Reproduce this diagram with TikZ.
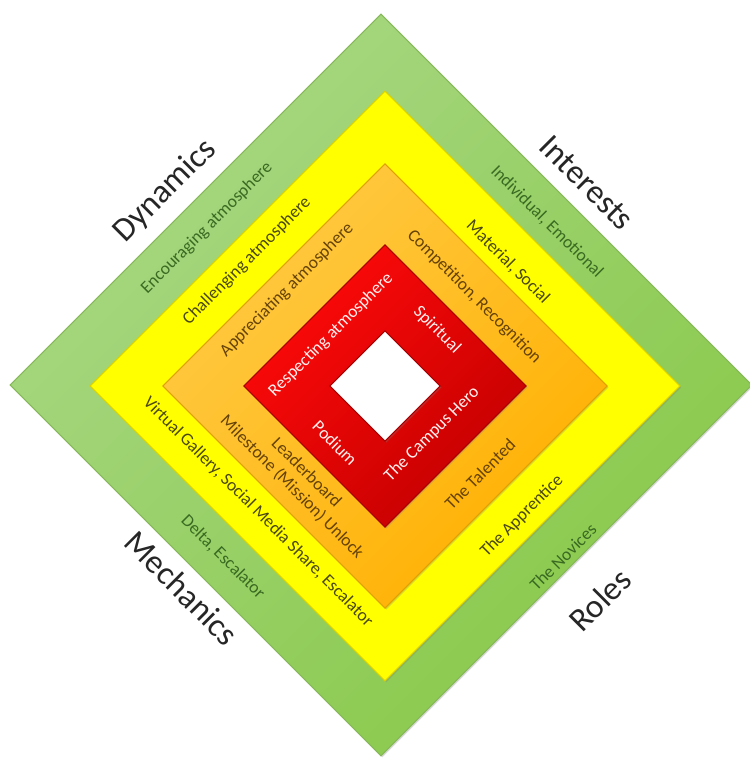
\documentclass[tikz,border=0pt]{standalone}
\usepackage{fontspec}
\setmainfont{Carlito}
\usepackage{tikz}
\usetikzlibrary{shadows}

\definecolor{greenlight}{HTML}{A8D784}
\definecolor{greendark}{HTML}{88C949}
\definecolor{greenedge}{HTML}{86B85A}
\definecolor{signyellow}{HTML}{FFFF00}
\definecolor{yellowedge}{HTML}{D9D200}
\definecolor{orangelight}{HTML}{FFCA45}
\definecolor{orangedark}{HTML}{FFB000}
\definecolor{orangeedge}{HTML}{E0A000}
\definecolor{redlight}{HTML}{FF0A0A}
\definecolor{reddark}{HTML}{C40000}
\definecolor{rededge}{HTML}{A80000}
\definecolor{greentext}{HTML}{3A6A22}
\definecolor{yellowtext}{HTML}{4A4712}
\definecolor{orangetext}{HTML}{654207}
\definecolor{redtext}{HTML}{FFF0F0}
\definecolor{labelgray}{HTML}{262626}

\begin{document}
\begin{tikzpicture}[
    layer/.style={rotate=45,inner sep=0pt,line width=0.6pt,
      drop shadow={opacity=0.3,shadow xshift=0.8pt,shadow yshift=-0.8pt}},
    lit/.style 2 args={top color=#1,bottom color=#2,shading angle=45},
    bandtext/.style={font=\fontsize{10}{12}\selectfont,inner sep=0pt},
    sidetext/.style={font=\fontsize{19}{22}\selectfont,text=labelgray,inner sep=0pt}]
    \useasboundingbox (0,0) rectangle (15,15.2);
    \node[layer,minimum size=10.49cm,lit={greenlight}{greendark},draw=greenedge] (green) at (7.62,7.50) {};
    \node[layer,minimum size=8.34cm,fill=signyellow,draw=yellowedge] (yellow) at (7.70,7.48) {};
    \node[layer,minimum size=6.28cm,lit={orangelight}{orangedark},draw=orangeedge] (orange) at (7.70,7.48) {};
    \node[layer,minimum size=3.99cm,lit={redlight}{reddark},draw=rededge] (red) at (7.70,7.48) {};
    \node[layer,minimum size=1.56cm,fill=white,draw=rededge] (core) at (7.70,7.48) {};

    \node[sidetext,rotate=45] (dyn) at (3.30,11.38) {Dynamics};
    \node[sidetext,rotate=-45] (int) at (11.74,11.54) {Interests};
    \node[sidetext,rotate=-45] (mech) at (3.64,3.44) {Mechanics};
    \node[sidetext,rotate=45] (roles) at (12.00,3.20) {Roles};

    \node[bandtext,text=greentext,rotate=45] (dyn1) at (4.14,10.64) {Encouraging atmosphere};
    \node[bandtext,text=yellowtext,rotate=45] (dyn2) at (4.94,9.98) {Challenging atmosphere};
    \node[bandtext,text=orangetext,rotate=45] (dyn3) at (5.74,9.40) {Appreciating atmosphere};
    \node[bandtext,text=redtext,rotate=45] (dyn4) at (6.62,8.50) {Respecting atmosphere};

    \node[bandtext,text=greentext,rotate=-45] (int1) at (10.94,10.76) {Individual, Emotional};
    \node[bandtext,text=yellowtext,rotate=-45] (int2) at (10.16,9.96) {Material, Social};
    \node[bandtext,text=orangetext,rotate=-45] (int3) at (9.48,9.26) {Competition, Recognition};
    \node[bandtext,text=redtext,rotate=-45] (int4) at (8.74,8.60) {Spiritual};

    \node[bandtext,text=greentext,rotate=-45] (mech1) at (4.46,4.06) {Delta, Escalator};
    \node[bandtext,text=yellowtext,rotate=-45] (mech2) at (5.16,4.96) {Virtual Gallery, Social Media Share, Escalator};
    \node[bandtext,text=orangetext,rotate=-45] (mech3) at (5.84,5.46) {Milestone (Mission) Unlock};
    \node[bandtext,text=orangetext,rotate=-45] (mech4) at (6.14,5.76) {Leaderboard};
    \node[bandtext,text=redtext,rotate=-45] (mech5) at (6.70,6.34) {Podium};

    \node[bandtext,text=greentext,rotate=45] (role1) at (11.26,4.06) {The Novices};
    \node[bandtext,text=yellowtext,rotate=45] (role2) at (10.44,4.88) {The Apprentice};
    \node[bandtext,text=orangetext,rotate=45] (role3) at (9.60,5.72) {The Talented};
    \node[bandtext,text=redtext,rotate=45] (role4) at (8.64,6.52) {The Campus Hero};
  \end{tikzpicture}
\end{document}
